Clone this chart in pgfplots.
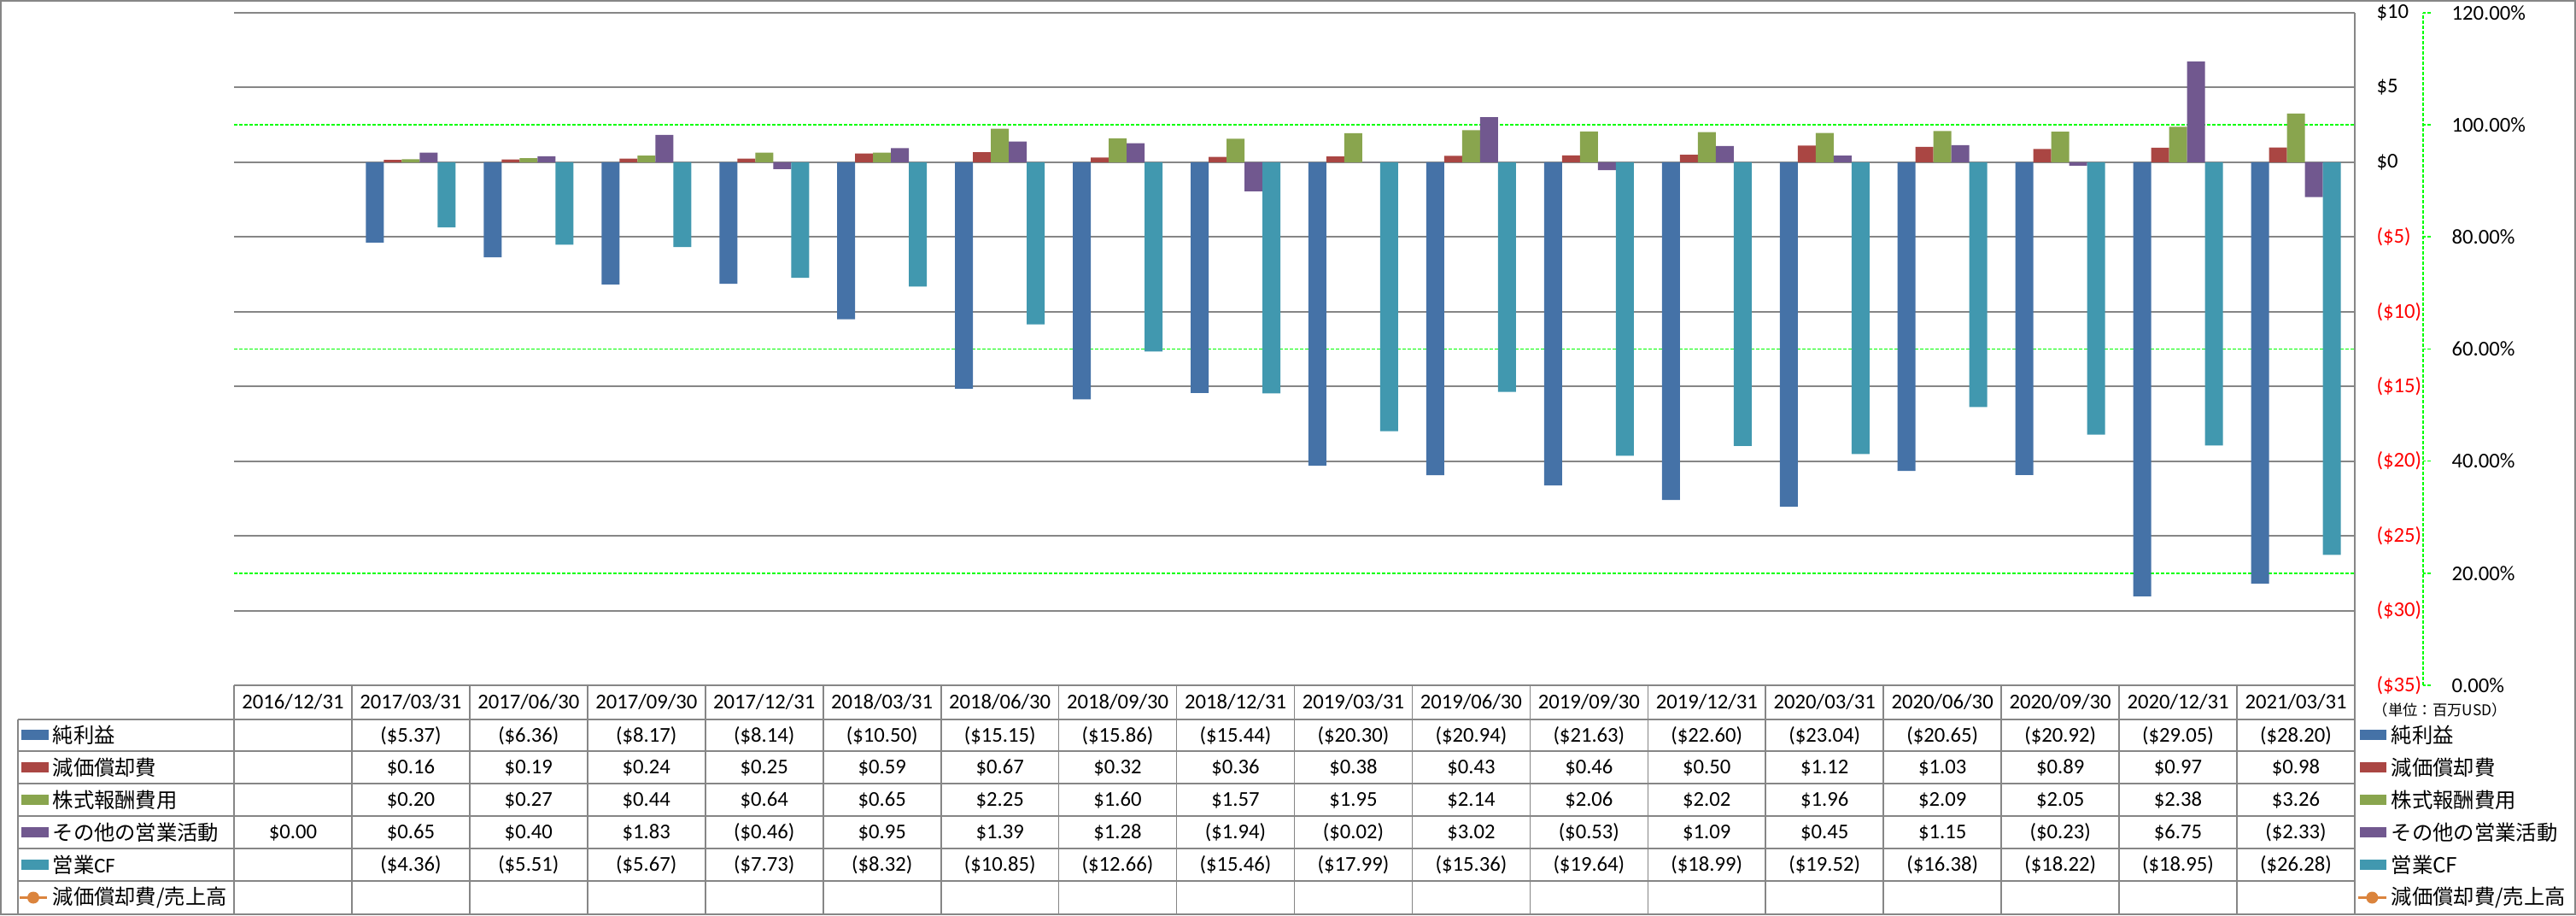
\documentclass[border=0pt]{standalone}
\usepackage{pgfplots}
\usepackage{pgfplotstable}
\pgfplotsset{compat=1.18}
\usepackage{fontspec}
\setmainfont{Carlito}
\newfontfamily\jp{Noto Sans CJK JP}
\definecolor{cBlue}{HTML}{4572A7}
\definecolor{cRed}{HTML}{AA4643}
\definecolor{cGreen}{HTML}{89A54E}
\definecolor{cPurple}{HTML}{71588F}
\definecolor{cTeal}{HTML}{4198AF}
\definecolor{cOrange}{HTML}{DB843D}
\definecolor{cGrid}{HTML}{868686}
\definecolor{cLime}{HTML}{00FF00}
\newcommand\tf{\fontsize{7.4pt}{8.9pt}\selectfont}
\newcommand\jf{\fontsize{7.3pt}{8.9pt}\selectfont\jp}

% x: category index (0 = 2016/12/31)
\pgfplotstableread{
x  ni      dep   sbc   oth    cf
1  -5.37   0.16  0.20  0.65   -4.36
2  -6.36   0.19  0.27  0.40   -5.51
3  -8.17   0.24  0.44  1.83   -5.67
4  -8.14   0.25  0.64  -0.46  -7.73
5  -10.50  0.59  0.65  0.95   -8.32
6  -15.15  0.67  2.25  1.39   -10.85
7  -15.86  0.32  1.60  1.28   -12.66
8  -15.44  0.36  1.57  -1.94  -15.46
9  -20.30  0.38  1.95  -0.02  -17.99
10 -20.94  0.43  2.14  3.02   -15.36
11 -21.63  0.46  2.06  -0.53  -19.64
12 -22.60  0.50  2.02  1.09   -18.99
13 -23.04  1.12  1.96  0.45   -19.52
14 -20.65  1.03  2.09  1.15   -16.38
15 -20.92  0.89  2.05  -0.23  -18.22
16 -29.05  0.97  2.38  6.75   -18.95
17 -28.20  0.98  3.26  -2.33  -26.28
}\data

\begin{document}
\begin{tikzpicture}[tbl/.style={anchor=mid, inner sep=0pt, font=\tf}]
\path[use as bounding box] (0,0) rectangle (904.8pt,321.3pt);
\draw[cGrid, line width=0.5pt] (0.25pt,0.25pt) rectangle (904.55pt,321.05pt);

% ---------- main axis ----------
\begin{axis}[
  at={(82.2pt,80.7pt)}, anchor=south west,
  scale only axis, width=744.9pt, height=236.1pt,
  xmin=-0.5, xmax=17.5, ymin=-35, ymax=10,
  axis line style={draw=none},
  xtick=\empty,
  ytick={-35,-30,...,10},
  yticklabels={{\color{red}(\$35)},{\color{red}(\$30)},{\color{red}(\$25)},{\color{red}(\$20)},{\color{red}(\$15)},{\color{red}(\$10)},{\color{red}(\$5)},\$0,\$5,\$10},
  yticklabel pos=right,
  ytick style={draw=none},
  yticklabel style={anchor=west, inner sep=0pt, xshift=7.5pt, font=\tf},
  ymajorgrids, major grid style={cGrid, line width=0.6pt},
  extra y ticks={-27.5,-12.5,2.5},
  extra y tick labels={},
  extra y tick style={ymajorgrids, major grid style={cLime, line width=0.5pt, dash pattern=on 1.1pt off 0.7pt}, ytick style={draw=none}},
  ybar=0pt, bar width=6.3pt,
  clip=false,
]
\addplot[fill=cBlue, draw=none] table[x=x, y=ni] {\data};
\addplot[fill=cRed, draw=none] table[x=x, y=dep] {\data};
\addplot[fill=cGreen, draw=none] table[x=x, y=sbc] {\data};
\addplot[fill=cPurple, draw=none] table[x=x, y=oth] {\data};
\addplot[fill=cTeal, draw=none] table[x=x, y=cf] {\data};
\end{axis}

% ---------- percent axis ----------
\begin{axis}[
  at={(82.2pt,80.7pt)}, anchor=south west,
  scale only axis, width=768.9pt, height=236.1pt,
  xmin=0, xmax=1, ymin=0, ymax=120,
  axis x line=none, axis y line*=right,
  y axis line style={cLime, line width=0.5pt, dash pattern=on 1.1pt off 0.7pt, -},
  ytick={0,20,...,120},
  yticklabels={0.00\%,20.00\%,40.00\%,60.00\%,80.00\%,100.00\%,120.00\%},
  ytick style={cLime, line width=0.5pt, dash pattern=on 1.1pt off 0.7pt},
  tick align=outside, major tick length=2.7pt,
  yticklabel style={anchor=west, inner sep=0pt, xshift=7.2pt, font=\tf},
]
\end{axis}

% right border of plot
\draw[cGrid, line width=0.6pt] (827.1pt,80.7pt) -- (827.1pt,316.8pt);

% ---------- data table ----------
\begin{scope}[cGrid, line width=0.5pt]
\draw (82.2pt,80.7pt) -- (827.1pt,80.7pt);
\foreach \yy in {68.7,57.6,46.2,34.8,23.4,12.0} {\draw (6.3pt,\yy pt) -- (827.1pt,\yy pt);}
\draw (6.3pt,0.3pt) -- (6.3pt,68.7pt);
\foreach \i in {0,...,18} {\draw ({82.2pt+\i*41.383pt},0.3pt) -- ({82.2pt+\i*41.383pt},80.7pt);}
\end{scope}

% header
\foreach \d [count=\i from 0] in {2016/12/31,2017/03/31,2017/06/30,2017/09/30,2017/12/31,2018/03/31,2018/06/30,2018/09/30,2018/12/31,2019/03/31,2019/06/30,2019/09/30,2019/12/31,2020/03/31,2020/06/30,2020/09/30,2020/12/31,2021/03/31}
  {\node[tbl] at ({82.2pt+(\i+0.5)*41.383pt},74.7pt) {\d};}
% rows
\foreach \v [count=\i from 1] in {{(\$5.37)},{(\$6.36)},{(\$8.17)},{(\$8.14)},{(\$10.50)},{(\$15.15)},{(\$15.86)},{(\$15.44)},{(\$20.30)},{(\$20.94)},{(\$21.63)},{(\$22.60)},{(\$23.04)},{(\$20.65)},{(\$20.92)},{(\$29.05)},{(\$28.20)}}
  {\node[tbl] at ({82.2pt+(\i+0.5)*41.383pt},63.15pt) {\v};}
\foreach \v [count=\i from 1] in {\$0.16,\$0.19,\$0.24,\$0.25,\$0.59,\$0.67,\$0.32,\$0.36,\$0.38,\$0.43,\$0.46,\$0.50,\$1.12,\$1.03,\$0.89,\$0.97,\$0.98}
  {\node[tbl] at ({82.2pt+(\i+0.5)*41.383pt},51.9pt) {\v};}
\foreach \v [count=\i from 1] in {\$0.20,\$0.27,\$0.44,\$0.64,\$0.65,\$2.25,\$1.60,\$1.57,\$1.95,\$2.14,\$2.06,\$2.02,\$1.96,\$2.09,\$2.05,\$2.38,\$3.26}
  {\node[tbl] at ({82.2pt+(\i+0.5)*41.383pt},40.5pt) {\v};}
\foreach \v [count=\i from 0] in {\$0.00,\$0.65,\$0.40,\$1.83,{(\$0.46)},\$0.95,\$1.39,\$1.28,{(\$1.94)},{(\$0.02)},\$3.02,{(\$0.53)},\$1.09,\$0.45,\$1.15,{(\$0.23)},\$6.75,{(\$2.33)}}
  {\node[tbl] at ({82.2pt+(\i+0.5)*41.383pt},29.1pt) {\v};}
\foreach \v [count=\i from 1] in {{(\$4.36)},{(\$5.51)},{(\$5.67)},{(\$7.73)},{(\$8.32)},{(\$10.85)},{(\$12.66)},{(\$15.46)},{(\$17.99)},{(\$15.36)},{(\$19.64)},{(\$18.99)},{(\$19.52)},{(\$16.38)},{(\$18.22)},{(\$18.95)},{(\$26.28)}}
  {\node[tbl] at ({82.2pt+(\i+0.5)*41.383pt},17.7pt) {\v};}

% left legend keys in table
\foreach \c/\t/\yy in {cBlue/{\jf 純利益}/63.15, cRed/{\jf 減価償却費}/51.9, cGreen/{\jf 株式報酬費用}/40.5, cPurple/{\jf その他の営業活動}/29.1, cTeal/{{\jf 営業}CF}/17.7} {
  \fill[\c] (7.5pt,\yy pt-1.8pt) rectangle (17.1pt,\yy pt+1.8pt);
  \node[anchor=west, inner sep=0pt, font=\tf] at (18.3pt,\yy pt) {\t};
}
\draw[cOrange, line width=1pt] (6.9pt,6.15pt) -- (16.5pt,6.15pt);
\fill[cOrange] (11.7pt,6.15pt) circle (2.1pt);
\node[anchor=west, inner sep=0pt] at (18.3pt,6.15pt) {\jf 減価償却費/売上高};

% right legend
\node[anchor=west, inner sep=0pt] at (833.4pt,72pt) {\fontsize{5.2pt}{6pt}\selectfont\jp （単位：百万USD）};
\foreach \c/\t/\yy in {cBlue/{純利益}/63.15, cRed/{減価償却費}/51.9, cGreen/{株式報酬費用}/40.5, cPurple/{その他の営業活動}/29.1, cTeal/{営業CF}/17.7} {
  \fill[\c] (828.9pt,\yy pt-1.8pt) rectangle (838.2pt,\yy pt+1.8pt);
  \node[anchor=west, inner sep=0pt] at (839.7pt,\yy pt) {\jf \t};
}
\draw[cOrange, line width=1pt] (828.3pt,6.15pt) -- (838.2pt,6.15pt);
\fill[cOrange] (833.2pt,6.15pt) circle (2.1pt);
\node[anchor=west, inner sep=0pt] at (839.7pt,6.15pt) {\jf 減価償却費/売上高};
\end{tikzpicture}
\end{document}
